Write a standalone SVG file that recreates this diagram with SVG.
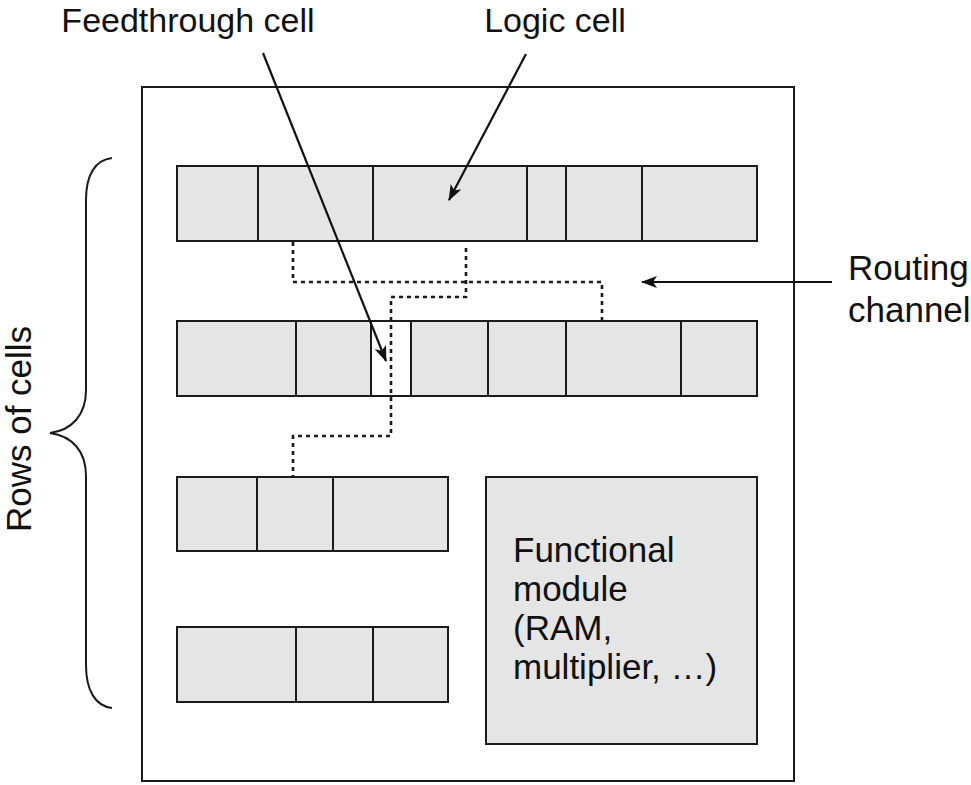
<svg xmlns="http://www.w3.org/2000/svg" width="971" height="785" viewBox="0 0 971 785">
<style>
  .cell { fill: #e5e5e5; stroke: #1a1a1a; stroke-width: 2; }
  .feed { fill: #ffffff; stroke: #1a1a1a; stroke-width: 2; }
  .frame { fill: #ffffff; stroke: #1a1a1a; stroke-width: 2; }
  .wire { fill: none; stroke: #1a1a1a; stroke-width: 2.6; stroke-dasharray: 4 4; }
  .arrow { fill: none; stroke: #111; stroke-width: 2.2; marker-end: url(#head); }
  .lbl { font-family: "Liberation Sans", Arial, sans-serif; font-size: 35px; fill: #111; }
  .top { font-size: 34px; }
  .brace { fill: none; stroke: #1a1a1a; stroke-width: 2; }
</style>
<defs>
  <marker id="head" viewBox="0 0 16 12" refX="15" refY="6" markerWidth="16" markerHeight="12" markerUnits="userSpaceOnUse" orient="auto">
    <path d="M0,0 L16,6 L0,12 L4,6 Z" fill="#111"/>
  </marker>
</defs>
<rect width="971" height="785" fill="#ffffff"/>

<g id="chip">
  <rect class="frame" x="142" y="87" width="652" height="694"/>
</g>

<g id="row1">
  <rect class="cell" x="177" y="166" width="81" height="75"/>
  <rect class="cell" x="258" y="166" width="115" height="75"/>
  <rect class="cell" x="373" y="166" width="154" height="75"/>
  <rect class="cell" x="527" y="166" width="39" height="75"/>
  <rect class="cell" x="566" y="166" width="76" height="75"/>
  <rect class="cell" x="642" y="166" width="115" height="75"/>
</g>

<g id="row2">
  <rect class="cell" x="177" y="321" width="119" height="75"/>
  <rect class="cell" x="296" y="321" width="75" height="75"/>
  <rect class="feed" x="371" y="321" width="40" height="75"/>
  <rect class="cell" x="411" y="321" width="77" height="75"/>
  <rect class="cell" x="488" y="321" width="78" height="75"/>
  <rect class="cell" x="566" y="321" width="115" height="75"/>
  <rect class="cell" x="681" y="321" width="76" height="75"/>
</g>

<g id="row3">
  <rect class="cell" x="177" y="477" width="80" height="74"/>
  <rect class="cell" x="257" y="477" width="76" height="74"/>
  <rect class="cell" x="333" y="477" width="115" height="74"/>
</g>

<g id="row4">
  <rect class="cell" x="177" y="627" width="119" height="75"/>
  <rect class="cell" x="296" y="627" width="77" height="75"/>
  <rect class="cell" x="373" y="627" width="75" height="75"/>
</g>

<g id="module">
  <rect class="cell" x="486" y="477" width="271" height="267"/>
  <text class="lbl" x="513" y="562">Functional</text>
  <text class="lbl" x="513" y="601">module</text>
  <text class="lbl" x="513" y="640">(RAM,</text>
  <text class="lbl" x="513" y="679">multiplier,  …)</text>
</g>

<g id="connectors">
  <path class="wire" d="M293,242 V282 H602 V321"/>
  <path class="wire" d="M466,248 V297 H391 V436 H293 V477"/>
  <line class="arrow" x1="263" y1="53" x2="386" y2="361"/>
  <line class="arrow" x1="526" y1="54" x2="449" y2="200"/>
  <line class="arrow" x1="832" y1="282" x2="642" y2="282"/>
</g>

<g id="rows-brace">
  <path class="brace" d="M112,158 C95,160 86,175 86,200 L86,390 C86,415 72,430 50,433 C72,436 86,451 86,476 L86,665 C86,690 95,706 112,708"/>
  <text class="lbl" transform="translate(31,429) rotate(-90)" text-anchor="middle">Rows of cells</text>
</g>

<g id="labels">
  <text class="lbl top" x="188" y="32" text-anchor="middle">Feedthrough cell</text>
  <text class="lbl top" x="555" y="32" text-anchor="middle">Logic cell</text>
  <text class="lbl" x="848" y="280">Routing</text>
  <text class="lbl" x="848" y="322">channel</text>
</g>
</svg>
